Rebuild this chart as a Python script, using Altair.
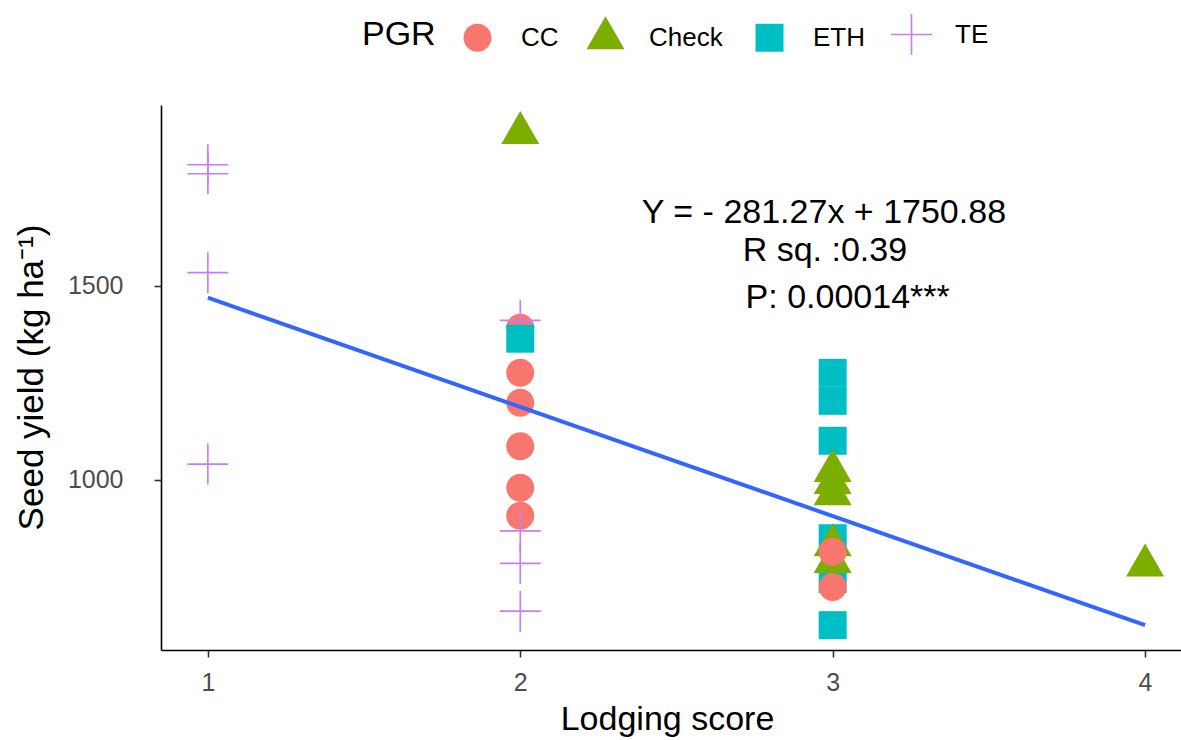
import altair as alt
import pandas as pd

# Plant growth regulator treatments and their colours
pgr_levels = ["CC", "Check", "ETH", "TE"]
pgr_colors = ["#F8766D", "#7CAE00", "#00BFC4", "#C77CFF"]

# Marker outlines in unit coordinates (scaled by the common symbol size)
shape_circle = "M0.683,0A0.683,0.683 0 1,1 -0.683,0A0.683,0.683 0 1,1 0.683,0Z"
shape_triangle = "M0,-1.073L0.927,0.537L-0.927,0.537Z"
shape_square = "M-0.683,-0.683L0.683,-0.683L0.683,0.683L-0.683,0.683Z"
shape_plus = "M-1,-0.04L1,-0.04L1,0.04L-1,0.04ZM-0.04,-1L0.04,-1L0.04,1L-0.04,1Z"
pgr_shapes = [shape_circle, shape_triangle, shape_square, shape_plus]

# Lodging score and seed yield (kg/ha) per plot, in drawing order
cc_score_a = [2, 2, 2, 2, 2, 2]
cc_yield_a = [1392, 1276, 1199, 1087, 980, 908]
te_score = [1, 1, 1, 1, 2, 2, 2, 2]
te_yield = [1812, 1789, 1534, 1041, 1411, 869, 785, 662]
eth_score = [2, 3, 3, 3, 3, 3, 3]
eth_yield = [1364, 1276, 1204, 1101, 850, 745, 626]
check_score = [2, 3, 3, 3, 3, 3, 4]
check_yield = [1894, 1023, 992, 963, 832, 789, 780]
cc_score_b = [3, 3]
cc_yield_b = [815, 724]

# Fitted linear model: Y = slope * x + intercept
slope = -281.27
intercept = 1750.88
fit_x = [1, 4]

# Model summary labels
note_text = ["Y = - 281.27x + 1750.88", "R sq. :0.39", "P: 0.00014***"]
note_x = [2.972, 2.975, 3.048]
note_y = [1662, 1564, 1444]

x_ticks = [1, 2, 3, 4]
y_ticks = [1000, 1500]

rows = []
for grp, xs, ys in [
    ("CC", cc_score_a, cc_yield_a),
    ("TE", te_score, te_yield),
    ("ETH", eth_score, eth_yield),
    ("Check", check_score, check_yield),
    ("CC", cc_score_b, cc_yield_b),
]:
    for xv, yv in zip(xs, ys):
        rows.append({"PGR": grp, "score": xv, "yield": yv})
points_df = pd.DataFrame(rows)

fit_df = pd.DataFrame({"score": fit_x, "yield": [slope * v + intercept for v in fit_x]})
note_df = pd.DataFrame({"score": note_x, "yield": note_y, "label": note_text})

FONT = "Liberation Sans"

x_scale = alt.Scale(domain=[0.85, 4.115], nice=False, zero=False)
y_scale = alt.Scale(domain=[562, 1966], nice=False, zero=False)

x_enc = alt.X(
    "score:Q",
    scale=x_scale,
    axis=alt.Axis(
        values=x_ticks,
        format="d",
        title="Lodging score",
        labelPadding=13,
        titleX=506,
        titleY=79,
        titleBaseline="alphabetic",
        titleAlign="center",
    ),
)
y_enc = alt.Y(
    "yield:Q",
    scale=y_scale,
    axis=alt.Axis(
        values=y_ticks,
        format="d",
        title="Seed yield (kg ha⁻¹)",
        labelPadding=31,
        titleX=-119,
        titleY=272,
        titleAngle=-90,
        titleFontSize=35,
        titleBaseline="alphabetic",
        titleAlign="center",
    ),
)

legend = alt.Legend(
    title="PGR",
    orient="none",
    direction="horizontal",
    legendX=201,
    legendY=-91,
    titleOrient="left",
    titleAnchor="middle",
    titleBaseline="middle",
    titlePadding=21,
    labelOffset=23,
    columnPadding=26,
    symbolSize=1681,
    symbolStrokeWidth=0,
    symbolOpacity=1,
)

points = alt.Chart(points_df).mark_point(
    filled=True, opacity=1, strokeWidth=0, size=1681
).encode(
    x=x_enc,
    y=y_enc,
    color=alt.Color("PGR:N", scale=alt.Scale(domain=pgr_levels, range=pgr_colors), legend=legend),
    shape=alt.Shape("PGR:N", scale=alt.Scale(domain=pgr_levels, range=pgr_shapes), legend=legend),
)

fit_line = alt.Chart(fit_df).mark_line(color="#3366FF", strokeWidth=4).encode(
    x=alt.X("score:Q", scale=x_scale),
    y=alt.Y("yield:Q", scale=y_scale),
)

notes = alt.Chart(note_df).mark_text(
    font=FONT, fontSize=34, color="black", align="center", baseline="alphabetic"
).encode(
    x=alt.X("score:Q", scale=x_scale),
    y=alt.Y("yield:Q", scale=y_scale),
    text="label:N",
)

chart = (
    alt.layer(points, fit_line, notes)
    .properties(
        width=1020,
        height=545,
        padding={"left": 161, "top": 105, "right": 0, "bottom": 90},
        autosize=alt.AutoSizeParams(type="none"),
        background="white",
    )
    .configure_view(stroke=None)
    .configure_axis(
        grid=False,
        domainColor="black",
        domainWidth=1.6,
        tickColor="#333333",
        tickWidth=1.6,
        tickSize=7,
        labelColor="#4D4D4D",
        labelFont=FONT,
        labelFontSize=25,
        titleFont=FONT,
        titleFontSize=34,
        titleFontWeight="normal",
        titleColor="black",
    )
    .configure_legend(
        labelFont=FONT,
        labelFontSize=26,
        labelColor="black",
        titleFont=FONT,
        titleFontSize=34,
        titleFontWeight="normal",
        titleColor="black",
        padding=0,
    )
)

chart.save("out.html", embed_options={"renderer": "svg", "actions": False})
